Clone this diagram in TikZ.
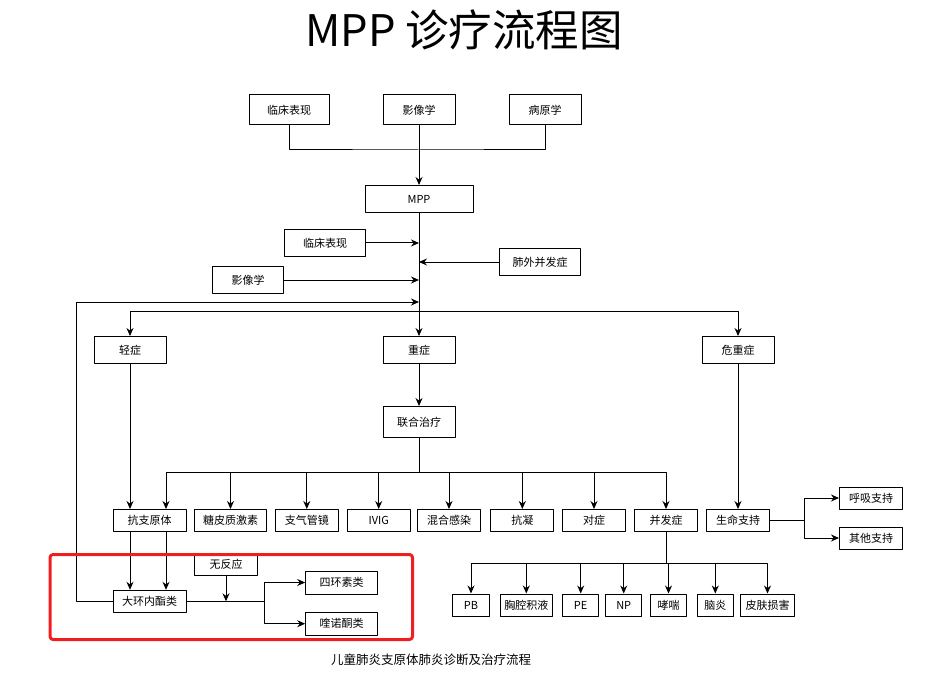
\documentclass[tikz,border=0pt]{standalone}
\usepackage{fontspec}
\setmainfont{Noto Sans CJK SC}
\usetikzlibrary{arrows.meta}
\definecolor{hongkuang}{RGB}{240,30,30}
\begin{document}
\begin{tikzpicture}[x=1pt,y=-1pt,font=\fontsize{11}{13}\selectfont, line width=1pt, line join=round, line cap=round, >={Stealth[length=8pt,width=7pt]},
    hop/.style={draw,line width=1pt,inner sep=0pt,minimum height=22pt}]
    %%Khung hình
    \useasboundingbox (0,0) rectangle (928,676);
    \def \hcao{27}
    \def \hrow{520.5}
    \def \hday{605}
    \node (tieude) at (464,30) {\fontsize{43.5}{45}\selectfont MPP 诊疗流程图};
    \node (chuthich) at (431,660) {\fontsize{12.5}{14}\selectfont 儿童肺炎支原体肺炎诊断及治疗流程};
    %%Tầng trên
    \node[hop,minimum width=80,minimum height=30] (lcbx) at (289,110) {临床表现};
    \node[hop,minimum width=72,minimum height=30] (yxx) at (419,110) {影像学};
    \node[hop,minimum width=72,minimum height=30] (byx) at (545,110) {病原学};
    \node[hop,minimum width=108,minimum height=\hcao] (mpp) at (419,199) {MPP};
    \node[hop,minimum width=81,minimum height=\hcao] (lcbxb) at (325,243) {临床表现};
    \node[hop,minimum width=81,minimum height=\hcao] (fwbfz) at (540,262) {肺外并发症};
    \node[hop,minimum width=71,minimum height=\hcao] (yxxb) at (248,280) {影像学};
    \node[hop,minimum width=72,minimum height=\hcao] (qz) at (130,350) {轻症};
    \node[hop,minimum width=72,minimum height=\hcao] (zz) at (419,350) {重症};
    \node[hop,minimum width=72,minimum height=\hcao] (wzz) at (738,350) {危重症};
    \node[hop,minimum width=72,minimum height=31] (lhzl) at (419,422) {联合治疗};
    %%Hàng điều trị
    \node[hop,minimum width=73] (kzyt) at (149.7,\hrow) {抗支原体};
    \node[hop,minimum width=72] (tpzjs) at (230.5,\hrow) {糖皮质激素};
    \node[hop,minimum width=63] (zqgj) at (306.8,\hrow) {支气管镜};
    \node[hop,minimum width=63] (ivig) at (378.7,\hrow) {IVIG};
    \node[hop,minimum width=63] (hhgr) at (449,\hrow) {混合感染};
    \node[hop,minimum width=63] (kn) at (522.3,\hrow) {抗凝};
    \node[hop,minimum width=63] (dz) at (594,\hrow) {对症};
    \node[hop,minimum width=63] (bfz) at (666,\hrow) {并发症};
    \node[hop,minimum width=63] (smzc) at (738,\hrow) {生命支持};
    \node[hop,minimum width=63] (hxzc) at (871,498) {呼吸支持};
    \node[hop,minimum width=63] (qtzc) at (871,538) {其他支持};
    %%Biến chứng
    \node[hop,minimum width=37] (pb) at (471,\hday) {PB};
    \node[hop,minimum width=52] (xqjy) at (526.3,\hday) {胸腔积液};
    \node[hop,minimum width=36] (pe) at (580.7,\hday) {PE};
    \node[hop,minimum width=36] (np) at (623.7,\hday) {NP};
    \node[hop,minimum width=36] (xc) at (668.5,\hday) {哮喘};
    \node[hop,minimum width=36] (ny) at (715.3,\hday) {脑炎};
    \node[hop,minimum width=54] (pfsh) at (767.5,\hday) {皮肤损害};
    %%Nhóm thuốc
    \node[hop,minimum width=73] (dhnz) at (149.7,601.3) {大环内酯类};
    \node[hop,minimum width=63] (wfy) at (226,564.5) {无反应};
    \node[hop,minimum width=72,minimum height=23] (shsl) at (341.7,582.5) {四环素类};
    \node[hop,minimum width=72,minimum height=23] (kntl) at (341.7,623.7) {喹诺酮类};
    %%Điểm nối
    \coordinate (n1) at (419,150);
    \coordinate (n2) at (419,311);
    \coordinate (n3) at (419,472.5);
    \coordinate (n4) at (804.3,\hrow);
    \coordinate (n5) at (666,563);
    \coordinate (n6) at (264.3,601.3);
    \coordinate (nv) at (76,302);
    %%Mũi tên
    \draw (lcbx.south) |- (n1) -| (byx.south);
    \draw[->] (yxx.south) -- (mpp.north);
    \draw[->] (mpp.south) -- (zz.north);
    \draw[->] (lcbxb.east) -- (lcbxb.east -| mpp.south);
    \draw[->] (fwbfz.west) -- (fwbfz.west -| mpp.south);
    \draw[->] (yxxb.east) -- (yxxb.east -| mpp.south);
    \draw[->] (dhnz.west) -| (nv) -- (nv -| mpp.south);
    \draw[->] (n2) -| (qz.north);
    \draw[->] (n2) -| (wzz.north);
    \draw[->] (zz.south) -- (lhzl.north);
    \draw[->] (qz.south) -- (qz.south |- kzyt.north);
    \draw (lhzl.south) -- (n3);
    \draw[->] (n3) -| ([xshift=16.3]kzyt.north);
    \foreach \o in {tpzjs,zqgj,ivig,hhgr,kn,dz,bfz}
        \draw[->] (n3) -| (\o.north);
    \draw[->] (wzz.south) -- (smzc.north);
    \draw (smzc.east) -- (n4);
    \draw[->] (n4) |- (hxzc.west);
    \draw[->] (n4) |- (qtzc.west);
    \draw (bfz.south) -- (n5);
    \foreach \o in {pb,xqjy,pe,np,xc,ny,pfsh}
        \draw[->] (n5) -| (\o.north);
    \draw[->] ([xshift=-19.7]kzyt.south) -- ([xshift=-19.7]dhnz.north);
    \draw[->] ([xshift=16.3]kzyt.south) -- ([xshift=16.3]dhnz.north);
    \draw (dhnz.east) -- (n6);
    \draw[->] (wfy.south) -- (wfy.south |- n6);
    \draw[->] (n6) |- (shsl.west);
    \draw[->] (n6) |- (kntl.west);
    \draw[hongkuang,line width=3pt,rounded corners=3pt] (50,554.5) rectangle (412.5,639.5);
\end{tikzpicture}
\end{document}
